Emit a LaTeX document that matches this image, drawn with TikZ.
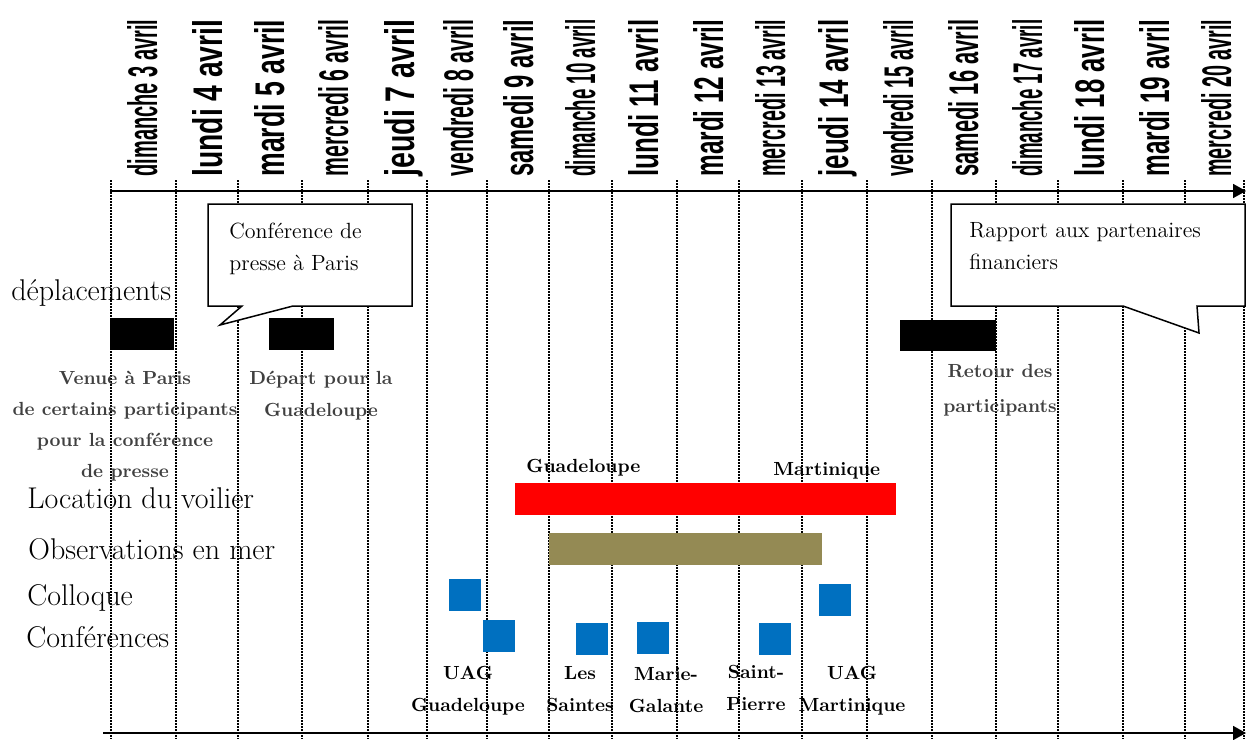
\documentclass[tikz,border=0pt]{standalone}
\usepackage{fontspec}
\newfontfamily\datefont{Liberation Sans}
\usetikzlibrary{arrows.meta}

\definecolor{olivebar}{HTML}{948A54}
\definecolor{colbleu}{HTML}{0070C0}
\definecolor{grislabel}{HTML}{404040}

\begin{document}
\begin{tikzpicture}[
  x=0.5pt, y=-0.5pt,
  pointille/.style={line width=0.75pt, dash pattern=on 0.75pt off 0.75pt},
  axe/.style={line width=0.9pt, -{Triangle[length=6.5pt, width=7pt]}},
  date/.style={rotate=90, anchor=base west, inner sep=0, font=\datefont\bfseries},
  ligne/.style={anchor=base west, inner sep=0, font=\fontsize{15}{18}\selectfont},
  bulle/.style={draw, fill=white, line width=0.75pt},
  texte bulle/.style={anchor=base west, inner sep=0, align=left, font=\fontsize{11}{16}\selectfont},
  note/.style={anchor=base, inner sep=0, align=center, text=grislabel, font=\fontsize{9.5}{16}\selectfont\bfseries},
  lieu/.style={anchor=base, inner sep=0, align=center, font=\fontsize{9.5}{16}\selectfont\bfseries},
  carre/.style={fill=colbleu}
  ]
  \useasboundingbox (0,0) rectangle (1246,739);

  % jours
  \foreach \x/\d [count=\i] in {111/dimanche 3 avril, 176/lundi 4 avril, 238/mardi 5 avril,
      302/mercredi 6 avril, 368/jeudi 7 avril, 427/vendredi 8 avril, 487/samedi 9 avril,
      549/dimanche 10 avril, 612/lundi 11 avril, 677/mardi 12 avril, 739/mercredi 13 avril,
      802/jeudi 14 avril, 867/vendredi 15 avril, 932/samedi 16 avril, 996/dimanche 17 avril,
      1058/lundi 18 avril, 1123/mardi 19 avril, 1185/mercredi 20 avril}{
    \draw[pointille] (\x,180) -- (\x,739);
    \node[date] (date\i) at (\x+46,177) {\resizebox{78.5pt}{15pt}{\d}};
  }
  \draw[pointille] (1244,180) -- (1244,739);

  % axes
  \coordinate (haut-g) at (110,191);
  \coordinate (haut-d) at (1246,191);
  \coordinate (bas-g) at (103,733);
  \coordinate (bas-d) at (1246,733);
  \draw[axe] (haut-g) -- (haut-d);
  \draw[axe] (bas-g) -- (bas-d);

  % bulles (base = derniere ligne)
  \draw[bulle] (208,204) -- (412,204) -- (412,306) -- (293,306) -- (220,325)
    -- (242,306) -- (208,306) -- cycle;
  \node[texte bulle] (presse) at (229,270) {Conférence de\\presse à Paris};
  \draw[bulle] (951,204) -- (1245,204) -- (1245,306) -- (1197,306) -- (1199,333)
    -- (1123,306) -- (951,306) -- cycle;
  \node[texte bulle] (rapport) at (969,269) {Rapport aux partenaires\\financiers};

  % lignes
  \node[ligne] (deplacements) at (11,300) {déplacements};
  \node[ligne] (voilier) at (27,508) {Location du voilier};
  \node[ligne] (observations) at (28,559) {Observations en mer};
  \node[ligne] (colloque) at (27,605) {Colloque};
  \node[ligne] (conferences) at (26,647) {Conférences};

  % deplacements
  \fill[black] (110,318) rectangle (174,350);
  \fill[black] (269,318) rectangle (334,350);
  \fill[black] (900,320) rectangle (996,351);
  \node[note, font=\fontsize{9.5}{15.5}\selectfont\bfseries] (venue) at (125,477)
    {Venue à Paris\\de certains participants\\pour la conférence\\de presse};
  \node[note] (depart) at (321,416) {Départ pour la\\Guadeloupe};
  \node[note, font=\fontsize{9.5}{17.5}\selectfont\bfseries] (retour) at (1000,412) {Retour des\\participants};

  % voilier et mer
  \fill[red] (515,483) rectangle (896,515);
  \fill[olivebar] (549,533) rectangle (822,565);
  \node[lieu, anchor=base west] (guadeloupe) at (526,472) {Guadeloupe};
  \node[lieu, anchor=base west] (martinique) at (773,475) {Martinique};

  % colloque et conferences
  \foreach \x/\y in {449/579, 819/584, 483/620, 576/623, 637/622, 759/623}
    \fill[carre] (\x,\y) rectangle ++(32,32);
  \node[lieu] (uag-gp) at (468,711) {UAG\\Guadeloupe};
  \node[lieu] (saintes) at (580,711) {Les\\Saintes};
  \node[lieu] (galante) at (666,712) {Marie-\\Galante};
  \node[lieu] (pierre) at (756,710) {Saint-\\Pierre};
  \node[lieu] (uag-mq) at (852,711) {UAG\\Martinique};
\end{tikzpicture}
\end{document}
